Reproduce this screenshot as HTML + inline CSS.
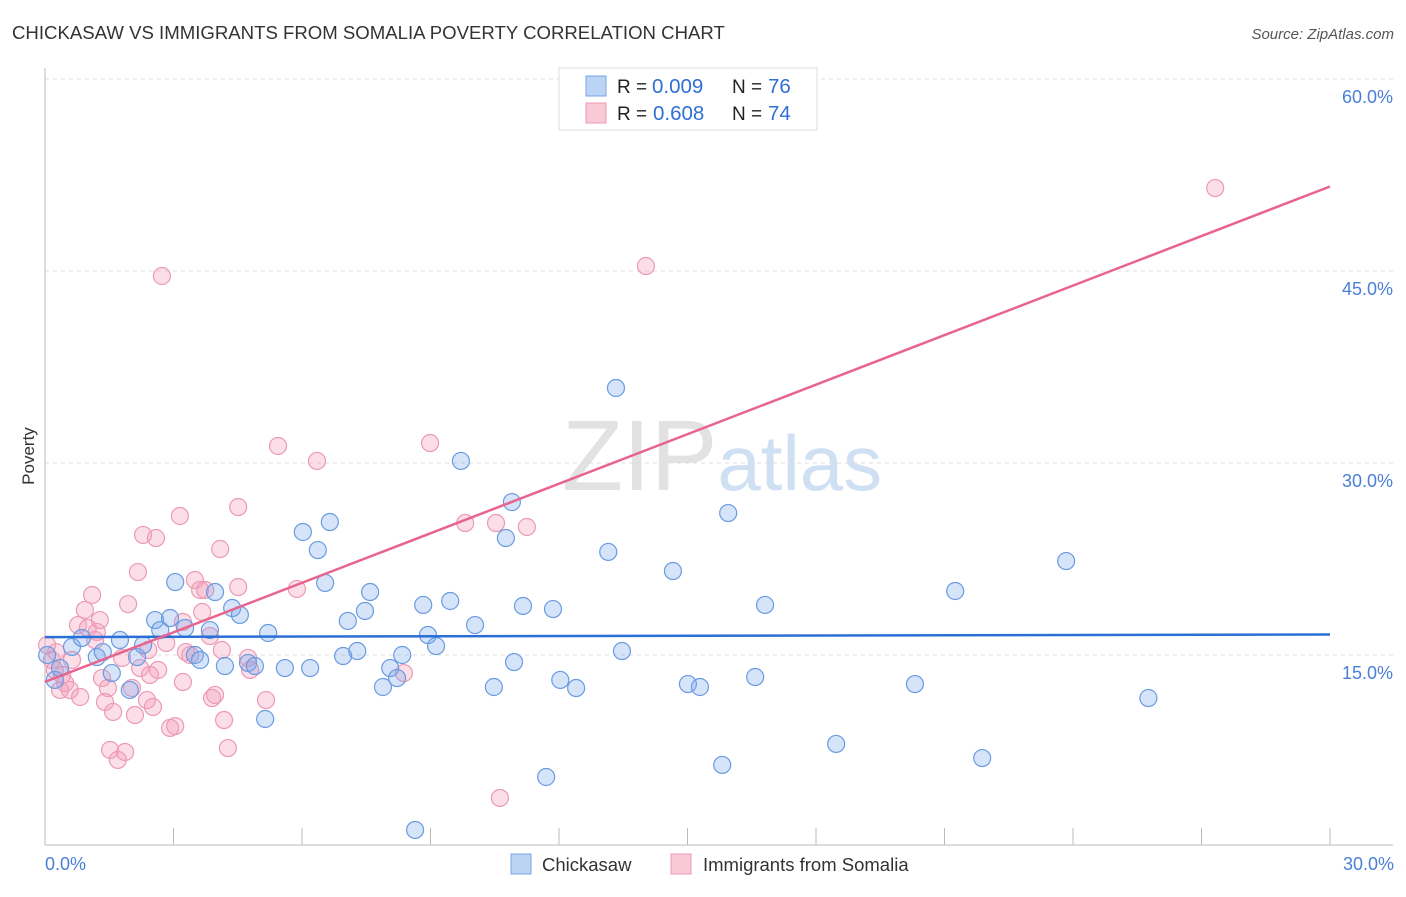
<!DOCTYPE html>
<html><head><meta charset="utf-8"><style>
body{margin:0;background:#fff;font-family:"Liberation Sans",sans-serif;}
svg text{font-family:"Liberation Sans",sans-serif;}
</style></head><body>
<svg id="chart" width="1406" height="892" xmlns="http://www.w3.org/2000/svg">
<text x="12" y="39" font-size="18.6" fill="#333">CHICKASAW VS IMMIGRANTS FROM SOMALIA POVERTY CORRELATION CHART</text>
<text x="1394" y="39" font-size="15" fill="#555" font-style="italic" text-anchor="end">Source: ZipAtlas.com</text>
<text x="722" y="490" font-size="100" fill="#e2e2e2" font-family="Liberation Serif" text-anchor="middle">ZIP<tspan fill="#cfe0f3" font-family="Liberation Sans" font-size="78">atlas</tspan></text>
<g id="grid"></g><g id="axes"></g><g id="pts"></g><g id="lines"></g>
<text x="34" y="456" font-size="17" fill="#333" text-anchor="middle" transform="rotate(-90 34 456)">Poverty</text>
<g>
<rect x="559" y="68" width="258" height="62" fill="#fff" stroke="#ddd"/>
<rect x="586" y="76" width="20" height="20" fill="#bcd4f4" stroke="#7aa6e6"/>
<rect x="586" y="103" width="20" height="20" fill="#f9c9d8" stroke="#ec9ab5"/>
<text x="617" y="93" font-size="19" fill="#222">R = <tspan x="652" fill="#2f6fd6" font-size="20.5">0.009</tspan><tspan x="732">N = </tspan><tspan x="768" fill="#2f6fd6" font-size="20.5">76</tspan></text>
<text x="617" y="120" font-size="19" fill="#222">R = <tspan x="653" fill="#2f6fd6" font-size="20.5">0.608</tspan><tspan x="732">N = </tspan><tspan x="768" fill="#2f6fd6" font-size="20.5">74</tspan></text>
</g>
<text x="45" y="870" font-size="18" fill="#4a7fd8">0.0%</text>
<text x="1394" y="870" font-size="18" fill="#4a7fd8" text-anchor="end">30.0%</text>
<g>
<rect x="511" y="854" width="20" height="20" fill="#bcd4f4" stroke="#7aa6e6"/>
<text x="542" y="871" font-size="18.5" fill="#333">Chickasaw</text>
<rect x="671" y="854" width="20" height="20" fill="#f9c9d8" stroke="#ec9ab5"/>
<text x="703" y="871" font-size="18.5" fill="#333">Immigrants from Somalia</text>
</g>
</svg>
<script>
const yTicks=[15,30,45,60];
const blueX=[0.05,0.23,0.35,0.63,0.86,1.21,1.35,1.56,1.75,1.98,2.15,2.29,2.57,2.69,2.92,3.04,3.27,3.5,3.62,3.85,3.97,4.2,4.37,4.55,4.74,4.9,5.14,5.21,5.6,6.02,6.19,6.37,6.54,6.65,6.96,7.07,7.29,7.47,7.59,7.89,8.06,8.22,8.34,8.64,8.83,8.94,9.13,9.46,9.71,10.04,10.48,10.76,10.95,10.9,11.16,11.7,11.86,12.03,12.4,13.15,13.33,13.47,14.66,15.01,15.29,15.81,15.95,16.58,16.81,18.47,20.31,21.25,21.88,23.84,25.76];
const blueY=[15.0,13.05,13.98,15.63,16.33,14.84,15.23,13.59,16.17,12.27,14.84,15.78,17.73,16.95,17.89,20.7,17.11,15.0,14.61,16.95,19.92,14.14,18.67,18.13,14.38,14.14,10.0,16.72,13.98,24.61,13.98,23.2,20.63,25.39,14.92,17.66,15.31,18.44,19.92,12.5,13.98,13.2,15.0,1.33,18.91,16.56,15.7,19.22,30.16,17.34,12.5,24.14,14.45,26.95,18.83,5.47,18.59,13.05,12.42,23.05,35.86,15.31,21.56,12.73,12.5,6.41,26.09,13.28,18.91,8.05,12.73,20.0,6.95,22.34,11.64];
const pinkX=[0.05,0.16,0.23,0.35,0.47,0.58,0.63,0.77,0.82,0.93,1.0,1.1,1.17,1.21,1.28,1.33,1.4,1.52,1.59,1.7,1.8,1.87,1.94,2.1,2.17,2.22,2.29,2.38,2.45,2.52,2.59,2.64,2.73,2.83,2.92,3.04,3.15,3.22,3.29,3.39,3.5,3.62,3.67,3.74,3.85,3.9,3.97,4.09,4.13,4.18,4.27,4.51,4.51,4.74,5.16,5.44,5.88,6.35,8.38,8.99,9.81,10.53,10.62,11.25,14.03,27.32,0.26,0.4,1.47,3.22,2.41,2.03,4.79];
const pinkY=[15.78,14.61,13.83,12.27,12.81,12.27,14.61,17.34,11.72,18.52,17.11,19.69,16.17,16.8,17.73,13.2,11.33,7.58,10.55,6.8,14.77,7.42,18.98,10.31,21.48,13.98,24.38,11.48,13.44,10.94,24.14,13.83,44.61,15.94,9.3,9.45,25.86,17.58,15.23,15.0,20.86,20.08,18.36,20.08,16.48,11.64,11.88,23.28,15.39,9.92,7.73,20.31,26.56,14.77,11.48,31.33,20.16,30.16,13.59,31.56,25.31,25.31,3.83,25.0,45.39,51.48,15.23,13.44,12.42,12.89,15.39,12.42,13.83];
const blueTrend=[16.4,16.6];
const pinkTrend=[12.9,51.6];
const NS="http://www.w3.org/2000/svg";
const xs=v=>45+v/30*1285, ys=v=>847-v/60*768;
function mk(tag,attrs,parent){const e=document.createElementNS(NS,tag);for(const k in attrs)e.setAttribute(k,attrs[k]);document.getElementById(parent).appendChild(e);return e;}
const grid='grid';
yTicks.forEach(t=>{
 const l=mk('line',{x1:45,x2:1393,y1:ys(t),y2:ys(t),stroke:'#ddd','stroke-dasharray':'4,4'},grid);
 
 
 const tx=mk('text',{x:1393,y:ys(t)+24,'font-size':18,fill:'#4a7fd8','text-anchor':'end'},grid);
 tx.textContent=t.toFixed(1)+'%';
 
 
});
mk('line',{x1:45,x2:45,y1:68,y2:845,stroke:'#bbb'},'axes');
mk('line',{x1:45,x2:1393,y1:845,y2:845,stroke:'#bbb'},'axes');
for(let i=0;i<=10;i++){const t=mk('line',{x1:xs(i*3),x2:xs(i*3),y1:828,y2:845,stroke:'#bbb'},'axes');
 
 }
function pts(X,Y,fill,stroke,name){X.forEach((x,i)=>{const c=mk('circle',{cx:xs(x),cy:ys(Y[i]),r:8.5,fill:fill,stroke:stroke,'stroke-width':1.2},'pts');
 
 });}
pts(pinkX,pinkY,'rgba(244,160,188,0.35)','#ec9ab5','somalia-point');
pts(blueX,blueY,'rgba(120,165,235,0.3)','#6a9be0','chickasaw-point');
const bl=mk('line',{x1:xs(0),x2:xs(30),y1:ys(blueTrend[0]),y2:ys(blueTrend[1]),stroke:'#2a6fd6','stroke-width':2.5},'lines');


const pl=mk('line',{x1:xs(0),x2:xs(30),y1:ys(pinkTrend[0]),y2:ys(pinkTrend[1]),stroke:'#e8648f','stroke-width':2.5},'lines');


</script>
</body></html>
